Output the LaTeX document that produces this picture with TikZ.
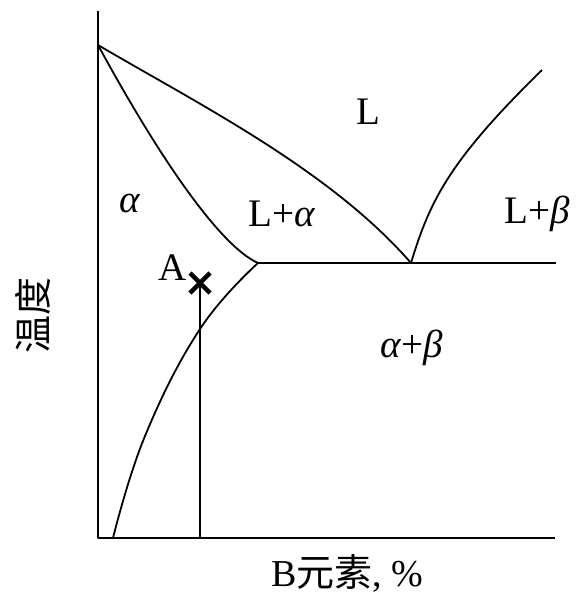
\documentclass[tikz,border=0pt]{standalone}
\usepackage{fontspec}
\setmainfont{Liberation Serif}
\newfontfamily\cjk{Noto Sans CJK SC}
\begin{document}
\begin{tikzpicture}[x=1pt,y=-1pt,
  curve/.style={line width=1.8pt, line join=round},
  lbl/.style={font=\fontsize{39}{44}\selectfont, inner sep=0pt},
  axlbl/.style={font=\fontsize{38}{44}\selectfont, inner sep=0pt}]
\useasboundingbox (0,0) rectangle (576,594);
% axes
\coordinate (top) at (98,11);
\coordinate (O) at (98,538);
\coordinate (xend) at (555,538);
\draw[curve] (top) -- (O) -- (xend);
% key points
\coordinate (TA) at (98,45);
\coordinate (E) at (411,263);
\coordinate (S) at (258,263);
\coordinate (Eend) at (556,263);
\coordinate (TB) at (542,70);
\coordinate (Sb) at (113,538);
% liquidus left
\draw[curve] (TA) .. controls (200,105) and (330,170) .. (E);
% solidus left
\draw[curve] (TA) .. controls (155,150) and (218,245) .. (S);
% eutectic line
\draw[curve] (S) -- (Eend);
% liquidus right
\draw[curve] (E) .. controls (430,200) and (450,160) .. (TB);
% solvus
\draw[curve] plot[smooth, tension=0.7] coordinates {(258,263) (200,329) (145,436) (113,538)};
% alloy A
\coordinate (A) at (200,283);
\coordinate (Abot) at (200,538);
\draw[curve] (A) -- (Abot);
\draw[line width=4.5pt] (190,273) -- (210,293) (190,293) -- (210,273);
% labels
\node[lbl] (lL) at (368,112) {L};
\node[lbl] (la) at (130,203) {\textit{α}};
\node[lbl] (lLa) at (282,214) {L+\textit{α}};
\node[lbl] (lLb) at (537,214) {L+\textit{β}};
\node[lbl] (lab) at (412,348) {\textit{α}+\textit{β}};
\node[lbl, anchor=east] (lA) at (187,268) {A};
\node[axlbl] (xl) at (347,573) {B{\cjk 元素}, \%};
\node[axlbl, rotate=90] (yl) at (33,315) {\cjk 温度};
\end{tikzpicture}
\end{document}
